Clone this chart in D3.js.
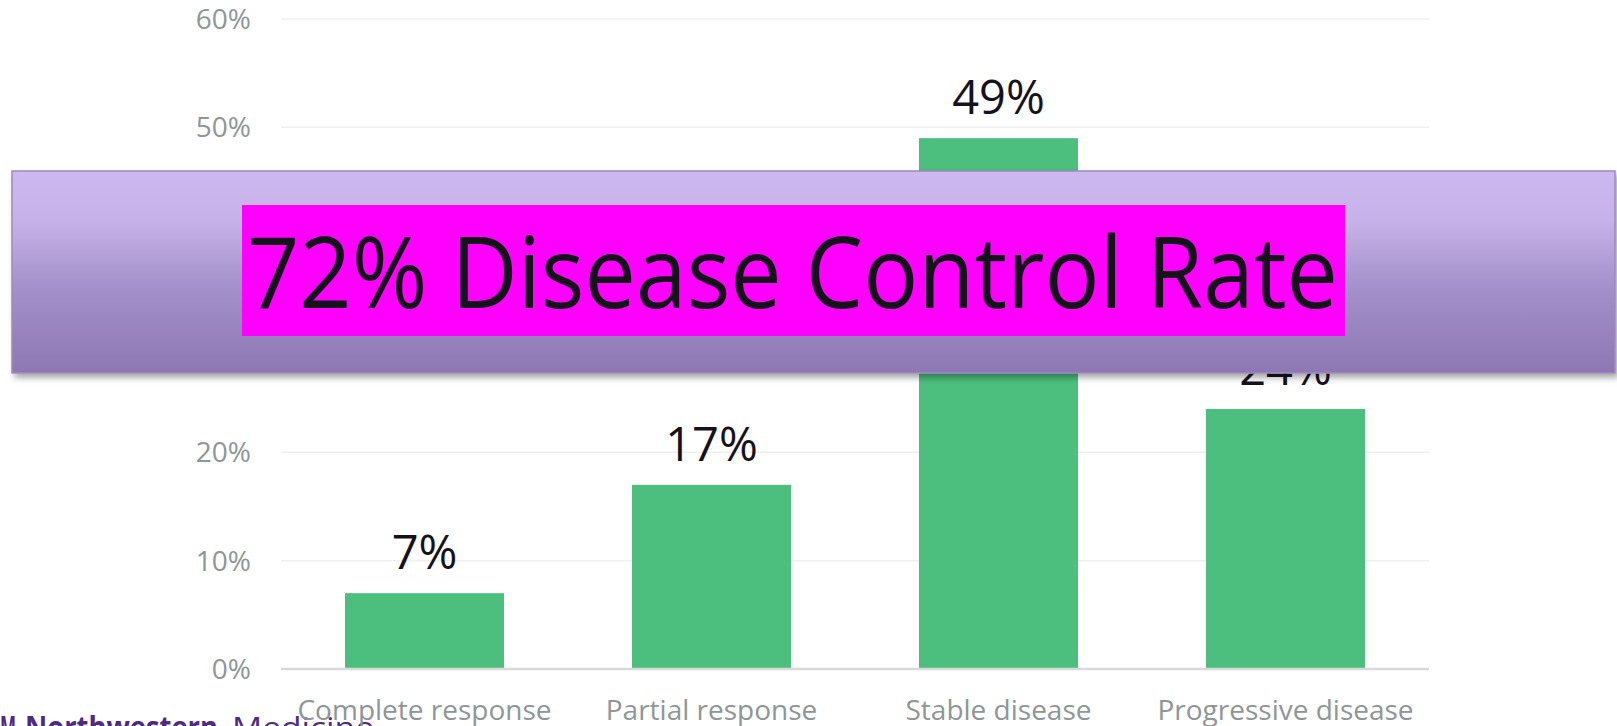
<!DOCTYPE html>
<html>
<head>
<meta charset="utf-8">
<script src="https://cdn.jsdelivr.net/npm/d3@7/dist/d3.min.js"></script>
<style>
  html, body { margin: 0; padding: 0; background: #ffffff; overflow: hidden; }
  svg { display: block; }
</style>
</head>
<body>
<svg id="chart" width="1617" height="726"></svg>
<script>
// Best overall response categories and their share of patients
const categories = ["Complete response", "Partial response", "Stable disease", "Progressive disease"];
const responseRates = [0.07, 0.17, 0.49, 0.24];
const yTicks = [0, 0.1, 0.2, 0.3, 0.4, 0.5, 0.6];
const bannerText = "72% Disease Control Rate";
const footerBrand = ["M", "Northwestern", "Medicine"];

const svg = d3.select("#chart");

const x = d3.scaleBand()
  .domain(categories)
  .range([281, 1429])
  .paddingInner(0.446)
  .paddingOuter(0.223);

const y = d3.scaleLinear()
  .domain([0, 0.6])
  .range([669, 19]);

const pct = d3.format(".0%");

// Horizontal gridlines
svg.append("g")
  .selectAll("line")
  .data(yTicks.filter(t => t > 0))
  .join("line")
  .attr("x1", 281).attr("x2", 1429)
  .attr("y1", d => y(d)).attr("y2", d => y(d))
  .attr("stroke", "#f0f0f0")
  .attr("stroke-width", 1.5);

// Y axis labels
const yAxis = d3.axisLeft(y).tickValues(yTicks).tickFormat(pct).tickSize(0).tickPadding(0);
const yg = svg.append("g").attr("transform", "translate(251,0)").call(yAxis);
yg.select(".domain").remove();
yg.selectAll("text")
  .attr("font-family", "'Open Sans', sans-serif")
  .attr("font-size", 28)
  .attr("fill", "#8f9696")
  .attr("dy", "0.34em");

// Bars
svg.append("g")
  .selectAll("rect")
  .data(categories)
  .join("rect")
  .attr("x", d => x(d))
  .attr("width", x.bandwidth())
  .attr("y", (d, i) => y(responseRates[i]))
  .attr("height", (d, i) => y(0) - y(responseRates[i]))
  .attr("fill", "#4cbe7d");

// Baseline
svg.append("line")
  .attr("x1", 281).attr("x2", 1429)
  .attr("y1", y(0)).attr("y2", y(0))
  .attr("stroke", "#d9d9d9")
  .attr("stroke-width", 2.5);

// Value labels above bars
svg.append("g")
  .selectAll("text")
  .data(categories)
  .join("text")
  .attr("x", d => x(d) + x.bandwidth() / 2)
  .attr("y", (d, i) => y(responseRates[i]) - 24)
  .attr("text-anchor", "middle")
  .attr("font-family", "'Open Sans', sans-serif")
  .attr("font-size", 47)
  .attr("fill", "#15121c")
  .text((d, i) => pct(responseRates[i]));

// Footer brand, running off the bottom edge
const brandFont = { family: "'Open Sans', sans-serif", size: 30, fill: "#4e2a84" };
const brandParts = [
  { text: footerBrand[0], x: 0, len: 16, weight: 700 },
  { text: footerBrand[1], x: 25, len: 193, weight: 700 },
  { text: footerBrand[2], x: 232, len: 142, weight: 400 }
];
svg.append("g")
  .selectAll("text")
  .data(brandParts)
  .join("text")
  .attr("x", d => d.x)
  .attr("y", 738)
  .attr("font-family", brandFont.family)
  .attr("font-size", brandFont.size)
  .attr("font-weight", d => d.weight)
  .attr("fill", brandFont.fill)
  .attr("textLength", d => d.len)
  .attr("lengthAdjust", "spacingAndGlyphs")
  .text(d => d.text);

// Category labels
const xAxis = d3.axisBottom(x).tickSize(0).tickPadding(0);
const xg = svg.append("g").attr("transform", "translate(0,720)").call(xAxis);
xg.select(".domain").remove();
xg.selectAll("text")
  .attr("font-family", "'Open Sans', sans-serif")
  .attr("font-size", 28)
  .attr("fill", "#8f9696")
  .attr("dy", 0)
  .attr("y", 0);

// Banner overlay
const defs = svg.append("defs");
const grad = defs.append("linearGradient")
  .attr("id", "bannerFill")
  .attr("x1", 0).attr("y1", 0).attr("x2", 0).attr("y2", 1);
[[0, "#ccb9ef"], [0.25, "#c6b2e8"], [0.6, "#a28ec8"], [1, "#8d78b4"]]
  .forEach(([o, c]) => grad.append("stop").attr("offset", o).attr("stop-color", c));

const shadow = defs.append("filter")
  .attr("id", "bannerShadow")
  .attr("x", "-5%").attr("y", "-20%").attr("width", "110%").attr("height", "140%");
shadow.append("feDropShadow")
  .attr("dx", 3).attr("dy", 4).attr("stdDeviation", 3)
  .attr("flood-color", "#000000").attr("flood-opacity", 0.35);

svg.append("rect")
  .attr("x", 12).attr("y", 171)
  .attr("width", 1603).attr("height", 202)
  .attr("fill", "url(#bannerFill)")
  .attr("stroke", "#9d8bbb")
  .attr("stroke-width", 1.5)
  .attr("filter", "url(#bannerShadow)");

svg.append("rect")
  .attr("x", 242).attr("y", 205)
  .attr("width", 1103).attr("height", 131)
  .attr("fill", "#ff00ff");

svg.append("text")
  .attr("x", 247).attr("y", 308)
  .attr("font-family", "'Open Sans', sans-serif")
  .attr("font-size", 98)
  .attr("fill", "#15121c")
  .attr("textLength", 1091)
  .attr("lengthAdjust", "spacingAndGlyphs")
  .text(bannerText);
</script>
</body>
</html>
